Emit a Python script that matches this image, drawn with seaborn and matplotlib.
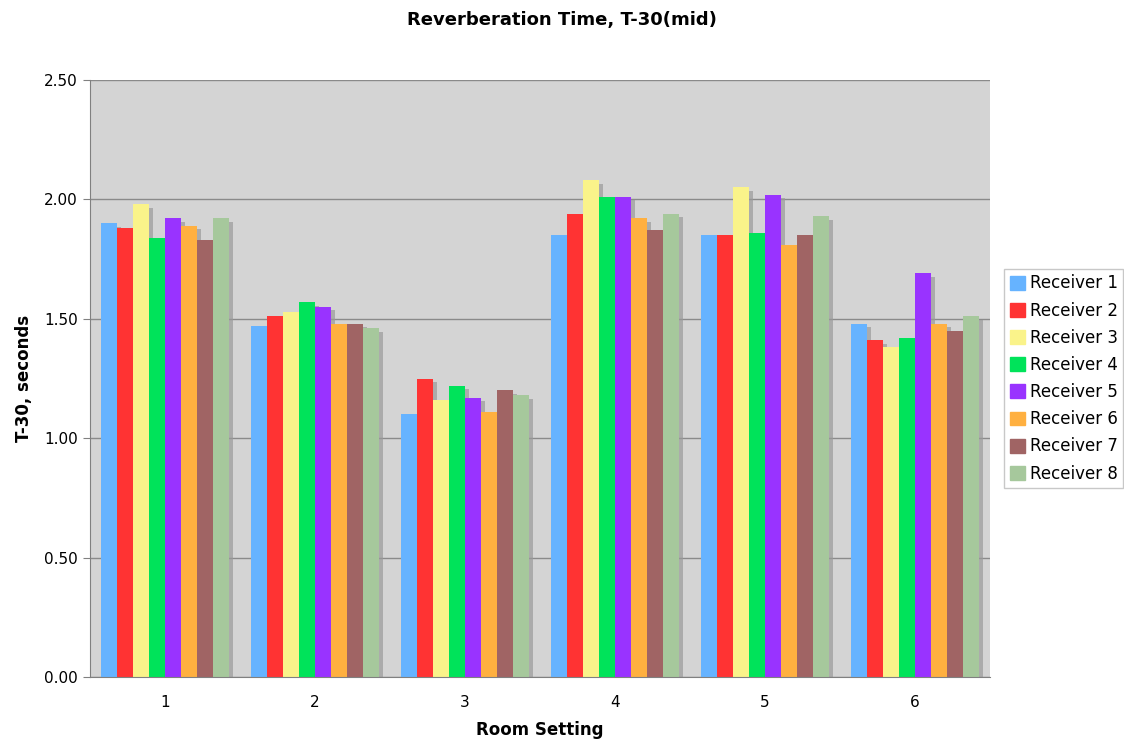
import matplotlib
matplotlib.use("Agg")
import matplotlib.pyplot as plt
import matplotlib.patheffects as pe
import numpy as np
import pandas as pd
import seaborn as sns

# Données
settings = ["1", "2", "3", "4", "5", "6"]
receivers = [f"Receiver {i}" for i in range(1, 9)]
receiver_1 = [1.90, 1.47, 1.10, 1.85, 1.85, 1.48]
receiver_2 = [1.88, 1.51, 1.25, 1.94, 1.85, 1.41]
receiver_3 = [1.98, 1.53, 1.16, 2.08, 2.05, 1.38]
receiver_4 = [1.84, 1.57, 1.22, 2.01, 1.86, 1.42]
receiver_5 = [1.92, 1.55, 1.17, 2.01, 2.02, 1.69]
receiver_6 = [1.89, 1.48, 1.11, 1.92, 1.81, 1.48]
receiver_7 = [1.83, 1.48, 1.20, 1.87, 1.85, 1.45]
receiver_8 = [1.92, 1.46, 1.18, 1.94, 1.93, 1.51]
colors = ["#66B3FF", "#FF3333", "#FAF38A", "#00E35A",
          "#9933FF", "#FFB040", "#A06464", "#A6C89C"]

series = [receiver_1, receiver_2, receiver_3, receiver_4,
          receiver_5, receiver_6, receiver_7, receiver_8]
df = pd.DataFrame([
    {"setting": s, "receiver": r, "t30": v}
    for r, vals in zip(receivers, series)
    for s, v in zip(settings, vals)
])

sns.set_style("white")
plt.rcParams["font.family"] = ["DejaVu Sans"]
plt.rcParams["text.color"] = "black"
plt.rcParams["axes.labelcolor"] = "black"
plt.rcParams["xtick.color"] = "black"
plt.rcParams["ytick.color"] = "black"

fig = plt.figure(figsize=(11.24, 7.40), dpi=100)
ax = fig.add_axes([0.080, 0.085, 0.801, 0.807])
ax.set_facecolor("#D4D4D4")

sns.barplot(data=df, x="setting", y="t30", hue="receiver", order=settings,
            hue_order=receivers, palette=colors, saturation=1, width=0.85,
            linewidth=0, ax=ax, legend=False)

shadow = [pe.SimplePatchShadow(offset=(2.8, -2.5), shadow_rgbFace="#9A9A9A", alpha=0.7), pe.Normal()]
for p in ax.patches:
    p.set_path_effects(shadow)

ax.set_ylim(0, 2.5)
ax.set_xlim(-0.5, 5.5)
ax.set_yticks(np.arange(0, 2.51, 0.5))
ax.set_yticklabels([f"{v:.2f}" for v in np.arange(0, 2.51, 0.5)], fontsize=11)
ax.yaxis.grid(True, color="#8A8A8A", linewidth=1)
ax.set_axisbelow(True)

ax.set_xticks(range(len(settings)))
ax.set_xticklabels(settings, fontsize=11)
ax.set_xticks(np.arange(-0.5, 5.6, 1), minor=True)
ax.tick_params(axis="x", which="major", length=0, pad=13)
ax.tick_params(axis="x", which="minor", length=5, color="#808080", direction="out")
ax.tick_params(axis="y", length=5, color="#808080", labelcolor="black", direction="out", left=True)

for side in ["left", "bottom"]:
    ax.spines[side].set_color("#808080")
for side in ["top", "right"]:
    ax.spines[side].set_visible(False)

ax.set_xlabel("Room Setting", fontsize=12, fontweight="bold", labelpad=8)
ax.set_ylabel("T-30, seconds", fontsize=12, fontweight="bold", labelpad=8)
fig.suptitle("Reverberation Time, T-30(mid)", fontsize=13, fontweight="bold", y=0.985)

handles = [plt.Rectangle((0, 0), 1, 1, color=c) for c in colors]
leg = ax.legend(handles, receivers, loc="center left", bbox_to_anchor=(1.015, 0.5),
                fontsize=12, frameon=True, fancybox=False, handlelength=0.9,
                handleheight=0.9, handletextpad=0.3, labelspacing=0.55,
                borderpad=0.35, borderaxespad=0)
leg.get_frame().set_edgecolor("#BBBBBB")
leg.get_frame().set_linewidth(1)

fig.savefig("out.png", dpi=100, facecolor="white")
